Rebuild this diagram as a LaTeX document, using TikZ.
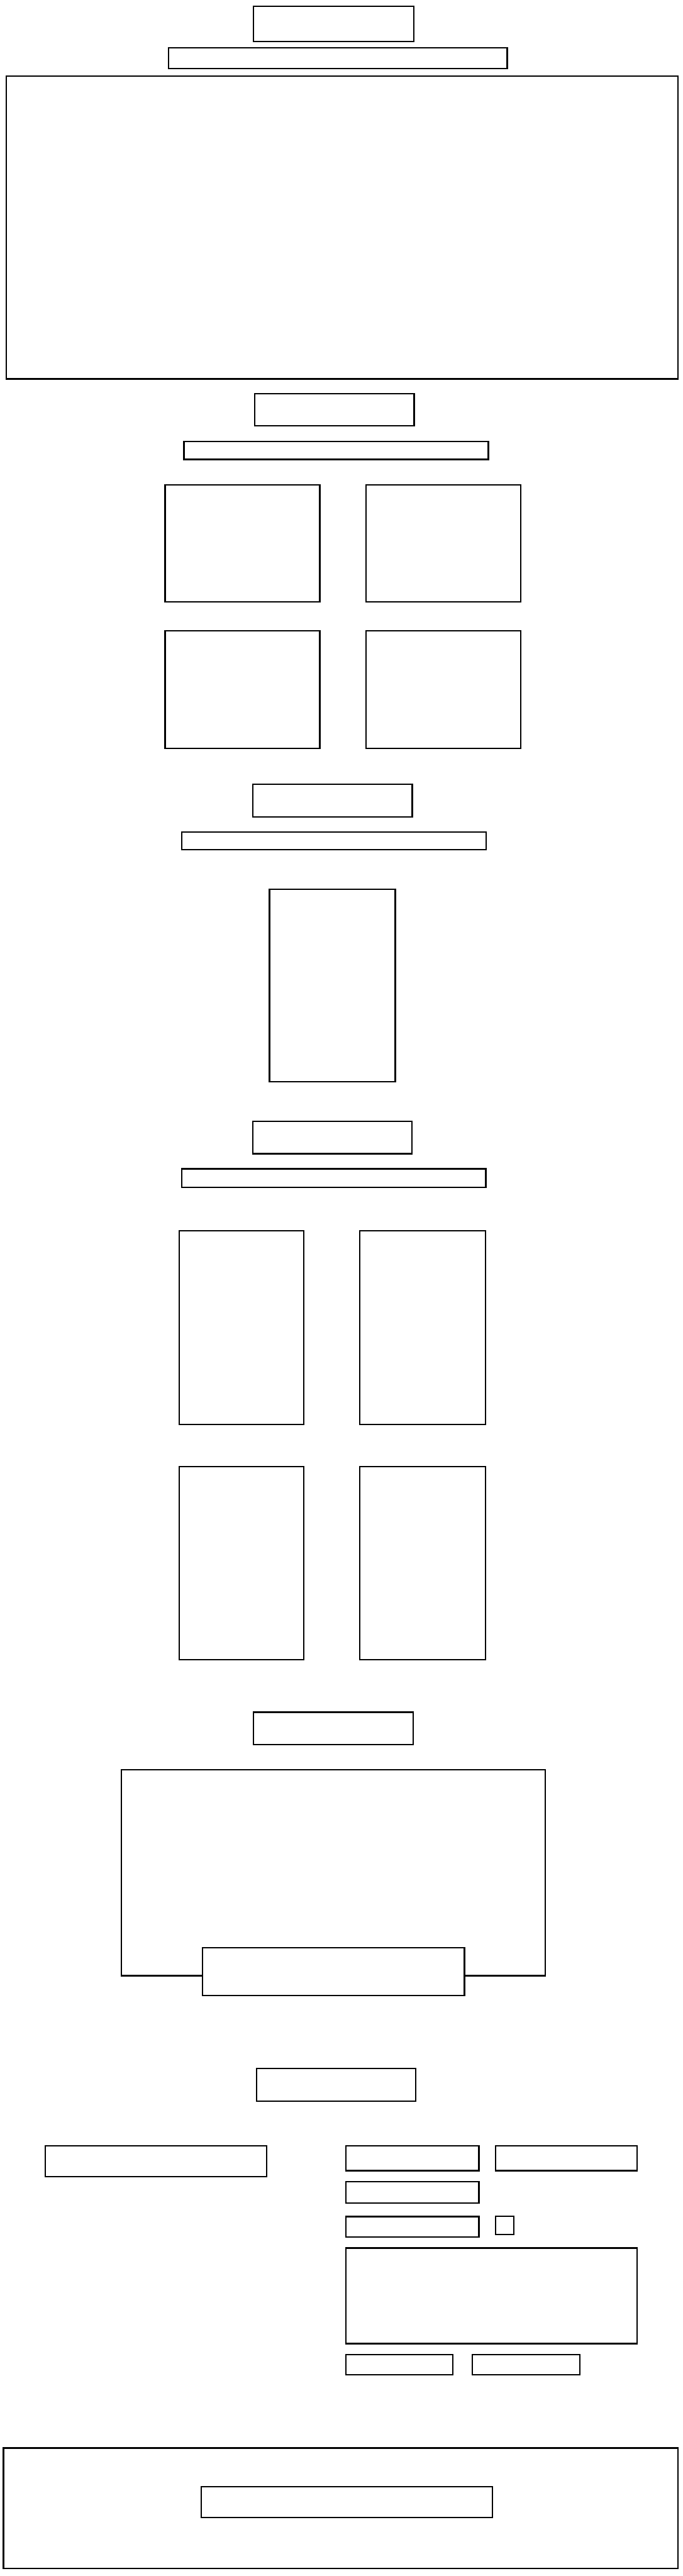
\documentclass[tikz,border=0pt]{standalone}
\usepackage{tikz}

\tikzstyle{frame} = [rectangle, draw, fill=white, line width=1.6pt, 
inner sep=0pt, outer sep=0pt]
\tikzset{boxsize/.style 2 args={minimum width=#1*0.0199cm, minimum height=#2*0.02cm}}

\begin{document}
\begin{tikzpicture}[x=0.0199cm, y=-0.02cm]
	\useasboundingbox (0,0) rectangle (1372.9,5153);
	%nodes for header
	\node[frame, boxsize={322}{70}] (logo) at (671,48) {};
	\node[frame, boxsize={681}{41}] (tagline) at (679.5,116.5) {};
	\node[frame, boxsize={1350}{606}] (hero) at (688,455) {};
	%nodes for grid section
	\node[frame, boxsize={321}{64}] (gridtitle) at (672.5,820) {};
	\node[frame, boxsize={612}{36}] (gridsub) at (676,901) {};
	\node[frame, boxsize={311}{234}] (cardA) at (487.5,1087) {};
	\node[frame, boxsize={311}{234}] (cardB) at (891.5,1087) {};
	\node[frame, boxsize={311}{235}] (cardC) at (487.5,1379.5) {};
	\node[frame, boxsize={311}{235}] (cardD) at (891.5,1379.5) {};
	%nodes for single section
	\node[frame, boxsize={321}{65}] (onetitle) at (668.5,1601.5) {};
	\node[frame, boxsize={612}{36}] (onesub) at (672,1682) {};
	\node[frame, boxsize={253}{385}] (tall) at (668.5,1971.5) {};
	%nodes for tall grid
	\node[frame, boxsize={320}{65}] (tgtitle) at (668,2275.5) {};
	\node[frame, boxsize={611}{37}] (tgsub) at (671.5,2356.5) {};
	\node[frame, boxsize={251}{387}] (tallA) at (485.5,2655.5) {};
	\node[frame, boxsize={253}{387}] (tallB) at (849.5,2655.5) {};
	\node[frame, boxsize={251}{386}] (tallC) at (485.5,3127) {};
	\node[frame, boxsize={253}{386}] (tallD) at (849.5,3127) {};
	%nodes for media section
	\node[frame, boxsize={321}{65}] (mediatitle) at (670.5,3457.5) {};
	\node[frame, boxsize={853}{412}] (media) at (670.5,3746) {};
	\node[frame, boxsize={527}{96}] (caption) at (670.5,3944) {};
	%nodes for form section
	\node[frame, boxsize={320}{65}] (formtitle) at (676,4170.5) {};
	\node[frame, boxsize={445}{62}] (info) at (313.5,4323) {};
	\node[frame, boxsize={267}{50}] (first) at (829.5,4317) {};
	\node[frame, boxsize={284}{50}] (last) at (1139,4317) {};
	\node[frame, boxsize={267}{43}] (mail) at (829.5,4385.5) {};
	\node[frame, boxsize={267}{41}] (phone) at (829.5,4454.5) {};
	\node[frame, boxsize={36}{37}] (check) at (1015,4451.5) {};
	\node[frame, boxsize={585}{191}] (message) at (988.5,4592.5) {};
	\node[frame, boxsize={215}{40}] (send) at (803.5,4730) {};
	\node[frame, boxsize={216}{40}] (reset) at (1058,4730) {};
	%nodes for footer
	\node[frame, boxsize={1356}{241}] (footer) at (685,5017.5) {};
	\node[frame, boxsize={585}{62}] (footnote) at (697.5,5005) {};
\end{tikzpicture}
\end{document}
